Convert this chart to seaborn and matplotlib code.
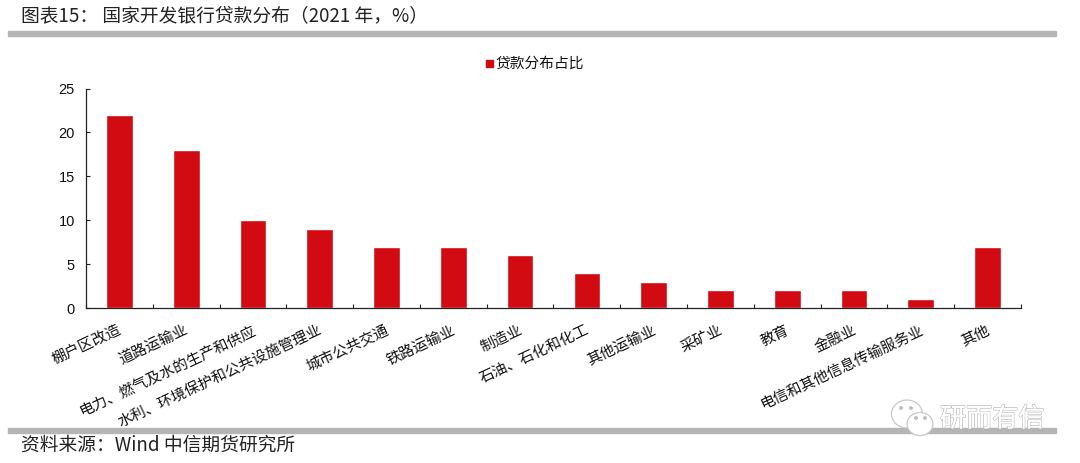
import matplotlib
matplotlib.use("Agg")
import matplotlib.pyplot as plt
import matplotlib.patheffects as pe
from matplotlib.patches import Ellipse, Rectangle
from matplotlib.transforms import ScaledTranslation
import pandas as pd
import seaborn as sns

categories = ["棚户区改造", "道路运输业", "电力、燃气及水的生产和供应", "水利、环境保护和公共设施管理业",
              "城市公共交通", "铁路运输业", "制造业", "石油、石化和化工", "其他运输业", "采矿业",
              "教育", "金融业", "电信和其他信息传输服务业", "其他"]
shares = [22, 18, 10, 9, 7, 7, 6, 4, 3, 2, 2, 2, 1, 7]
series_name = "贷款分布占比"
y_ticks = [0, 5, 10, 15, 20, 25]

sns.set_theme(style="white")
plt.rcParams['font.family'] = ['Noto Sans CJK SC', 'DejaVu Sans']

W, H = 1080, 463
RED = "#d20a11"
GREY = "#b5b5b5"

df = pd.DataFrame({"cat": categories, "share": shares})

fig = plt.figure(figsize=(W / 100, H / 100), dpi=100)
ax = fig.add_axes([86 / W, 1 - 308 / H, (1021 - 86) / W, (308 - 88.5) / H])
sns.barplot(data=df, x="cat", y="share", color=RED, saturation=1, width=0.4, ax=ax)

ax.set_xlim(-0.5, len(categories) - 0.5)
ax.set_ylim(0, 25)
ax.set_yticks(y_ticks)
ax.set_xlabel("")
ax.set_ylabel("")
for side in ["top", "right"]:
    ax.spines[side].set_visible(False)
for side in ["left", "bottom"]:
    ax.spines[side].set_color("#222222")
    ax.spines[side].set_linewidth(0.9)

# ticks sit between the bars and point inward
ax.set_xticks([i - 0.5 for i in range(len(categories) + 1)], minor=True)
ax.tick_params(axis="x", which="minor", bottom=True, direction="in", length=3, width=0.8, color="#222222")
ax.tick_params(axis="x", which="major", bottom=False, pad=5)
ax.tick_params(axis="y", left=True, direction="in", length=3, width=0.8, color="#222222", pad=8,
               labelsize=10.5, labelcolor="#111111")
for lab in ax.get_yticklabels():
    lab.set_family(["Liberation Sans"])
ax.set_xticks(range(len(categories)))
ax.set_xticklabels(categories, rotation=25, ha="right", va="top", rotation_mode="anchor",
                   fontsize=10.7, color="#111111")
shift = ScaledTranslation(-1.5 / 100, 0, fig.dpi_scale_trans)
for lab in ax.get_xticklabels():
    lab.set_transform(lab.get_transform() + shift)

# legend
fig.patches.append(Rectangle((486 / W, 1 - 67 / H), 7 / W, 7 / H, transform=fig.transFigure, color=RED))
fig.text(495 / W, 1 - 64 / H, series_name, fontsize=10.6, va="center", color="#111111")

# header, rules and source line
fig.text(21 / W, 1 - 16 / H, "图表15： 国家开发银行贷款分布（2021 年，%）", fontsize=13.5, va="center", color="#222222")
fig.patches.append(Rectangle((8 / W, 1 - 36 / H), 1048 / W, 5 / H, transform=fig.transFigure, color=GREY))
fig.patches.append(Rectangle((8 / W, 1 - 433 / H), 1048 / W, 5 / H, transform=fig.transFigure, color=GREY))
fig.text(21 / W, 1 - 445 / H, "资料来源：Wind 中信期货研究所", fontsize=13.5, va="center", color="#222222")

# watermark
for cx, cy, w, h in [(907, 414, 31, 28), (920, 424, 26, 23)]:
    fig.patches.append(Ellipse((cx / W, 1 - cy / H), w / W, h / H, transform=fig.transFigure,
                               facecolor="white", edgecolor="#c8c8c8", linewidth=0.9))
for cx, cy in [(901, 408), (911, 408), (916, 418), (925, 418)]:
    fig.patches.append(Ellipse((cx / W, 1 - cy / H), 2.5 / W, 2.5 / H, transform=fig.transFigure, color="#c0c0c0"))
wm = fig.text(940 / W, 1 - 419 / H, "研而有信", fontsize=18.8, va="center", color="white")
wm.set_path_effects([pe.withStroke(linewidth=1.0, foreground="#b8b8b8"), pe.Normal()])

fig.savefig("out.png", dpi=100)
plt.close(fig)
